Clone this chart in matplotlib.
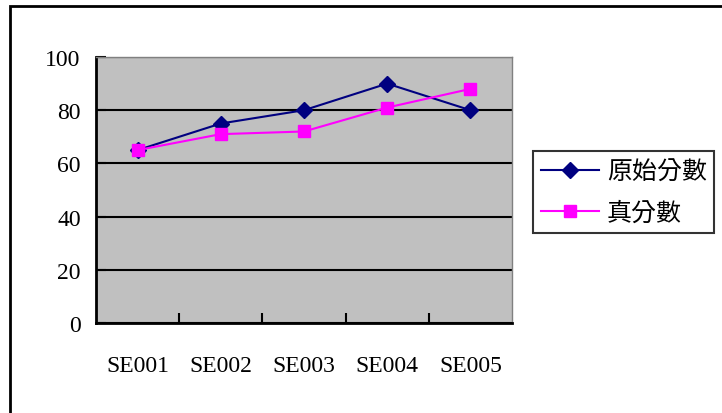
import matplotlib
matplotlib.use('Agg')
import matplotlib.pyplot as plt
from matplotlib.patches import Rectangle

students = ['SE001', 'SE002', 'SE003', 'SE004', 'SE005']
raw_score = [65, 75, 80, 90, 80]     # 原始分數
true_score = [65, 71, 72, 81, 88]    # 真分數
y_ticks = [0, 20, 40, 60, 80, 100]

plt.rcParams['font.family'] = ['Liberation Serif', 'Noto Sans CJK TC']

fig = plt.figure(figsize=(7.22, 4.14), dpi=100)
fig.patch.set_facecolor('white')

# outer chart frame (runs off the right/bottom edge like the screenshot)
fig.patches.append(Rectangle((10 / 722, -0.1), 1.2, 1 - 7 / 414 + 0.1,
                             transform=fig.transFigure, fill=False,
                             edgecolor='black', linewidth=2))

ax = fig.add_axes([96 / 722, 1 - 324 / 414, 416 / 722, 266 / 414])
ax.set_facecolor('#C0C0C0')

x = range(len(students))
ax.plot(x, raw_score, color='#000080', marker='D', markersize=8.5,
        linewidth=1.5, label='原始分數', zorder=3)
ax.plot(x, true_score, color='#FF00FF', marker='s', markersize=8.5,
        linewidth=1.5, label='真分數', zorder=3)

ax.set_xlim(-0.5, len(students) - 0.5)
ax.set_ylim(0, 100)
ax.set_yticks(y_ticks)
ax.yaxis.grid(True, color='black', linewidth=1.5)
ax.set_axisbelow(True)

ax.set_xticks(list(x))
ax.set_xticklabels(students)
ax.set_xticks([i + 0.5 for i in range(len(students) - 1)], minor=True)
ax.tick_params(axis='x', which='major', length=0, pad=23, labelsize=17)
ax.tick_params(axis='x', which='minor', direction='in', length=7, width=1.5)
ax.tick_params(axis='y', direction='in', length=7, width=1.5, pad=11,
               labelsize=17)

for side in ['left', 'bottom']:
    ax.spines[side].set_linewidth(2)
    ax.spines[side].set_color('black')
for side in ['top', 'right']:
    ax.spines[side].set_linewidth(1)
    ax.spines[side].set_color('#808080')

leg = fig.legend(loc='upper left', bbox_to_anchor=(533 / 722, 1 - 152 / 414),
                 prop={'family': 'Noto Sans CJK TC', 'size': 18},
                 frameon=True, fancybox=False, borderaxespad=0,
                 handlelength=2.35, handletextpad=0.3, borderpad=0.3,
                 labelspacing=0.6)
leg.get_frame().set_edgecolor('black')
leg.get_frame().set_linewidth(1.5)

fig.savefig('out.png', dpi=100)
